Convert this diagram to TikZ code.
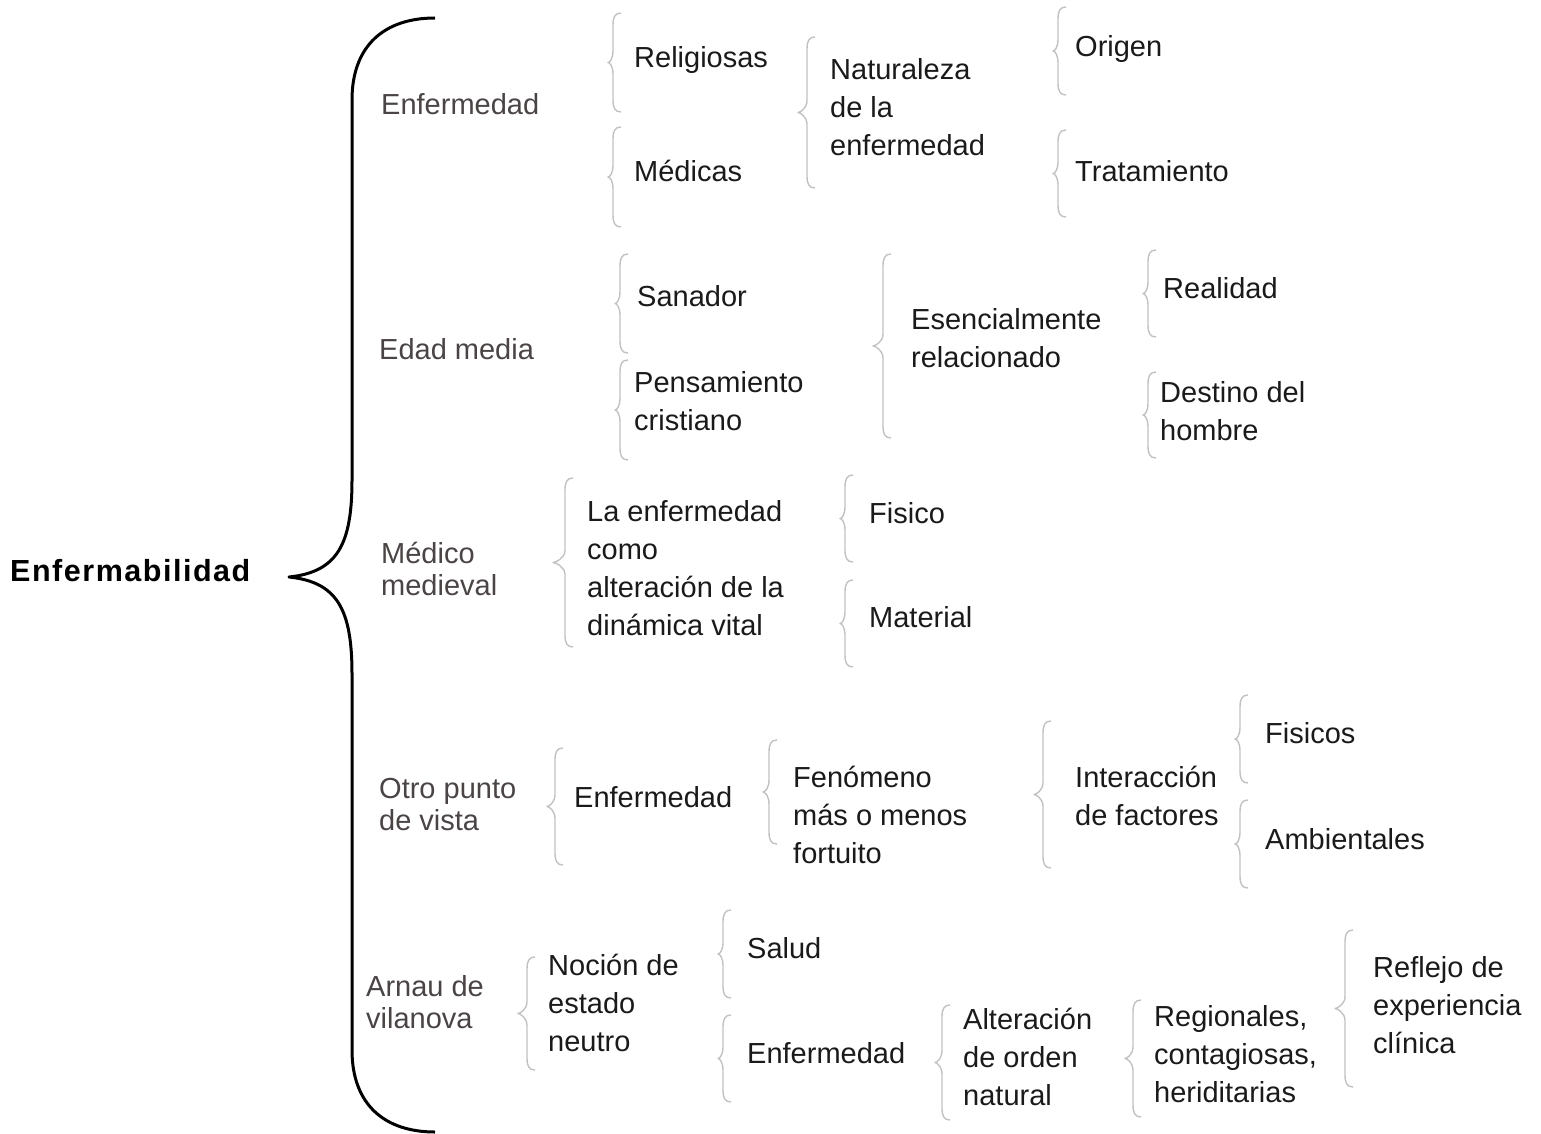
\documentclass[tikz,border=0pt]{standalone}
\usepackage{fontspec}
\setmainfont{Liberation Sans}
\definecolor{inkblack}{HTML}{1A1A1A}
\definecolor{topicgray}{HTML}{4A4444}
\definecolor{bracegray}{HTML}{C2C2C2}
\tikzset{
  item/.style={anchor=west, inner sep=0pt, align=left, text=inkblack,
    font=\fontsize{29}{38}\selectfont,
    execute at begin node=\strut, execute at end node=\strut},
  topic/.style={item, text=topicgray, font=\fontsize{29}{32}\selectfont},
  brace/.style={draw=bracegray, line width=1.4pt, line join=round},
  bigbrace/.style={draw=black, line width=3pt, line join=round},
}
% small gray brace: (stem x, top y, bottom y, tip depth)
\def\grbrace(#1,#2,#3,#4){%
  \pgfmathsetmacro\bmid{(#2+#3)/2}
  \draw[brace] (#1+8,#2) .. controls (#1+2,#2) and (#1,#2+4) .. (#1,#2+12)
    -- (#1,\bmid-12) .. controls (#1,\bmid-4) and (#1-#4+2,\bmid) .. (#1-#4,\bmid)
    .. controls (#1-#4+2,\bmid) and (#1,\bmid+4) .. (#1,\bmid+12)
    -- (#1,#3-12) .. controls (#1,#3-4) and (#1+2,#3) .. (#1+8,#3);}

\begin{document}
\begin{tikzpicture}[x=1pt, y=-1pt]
	%%%%% START %%%%%
	\useasboundingbox (0,0) rectangle (1541,1134);
	
	\node[item, text=black, font=\fontsize{30.5}{36}\bfseries\addfontfeature{LetterSpace=5}] (root) at (10,574) {Enfermabilidad};
	\draw[bigbrace] (435,18) .. controls (385,18) and (352,45) .. (352,100) -- (352,480)
		.. controls (352,545) and (337,572) .. (289,577)
		.. controls (337,582) and (352,609) .. (352,674) -- (352,1050)
		.. controls (352,1105) and (385,1132) .. (435,1132);
	
	\node[topic] (enf) at (381,108) {Enfermedad};
	\node[topic] (edad) at (379,353) {Edad media};
	\node[topic] (medico) at (381,574) {Médico\\medieval};
	\node[topic] (otro) at (379,809) {Otro punto\\de vista};
	\node[topic] (arnau) at (366,1007) {Arnau de\\vilanova};
	
	% Enfermedad
	\grbrace(613,13,112,5)
	\node[item] (relig) at (634,60) {Religiosas};
	\grbrace(613,127,227,5)
	\node[item] (medic) at (634,174) {Médicas};
	\grbrace(807,37,188,9)
	\node[item] (natur) at (830,113) {Naturaleza\\de la\\enfermedad};
	\grbrace(1058,7,95,5)
	\node[item] (origen) at (1075,49) {Origen};
	\grbrace(1058,130,217,5)
	\node[item] (tratam) at (1075,174) {Tratamiento};
	
	% Edad media
	\grbrace(620,254,353,5)
	\node[item] (sanador) at (637,299) {Sanador};
	\grbrace(620,360,460,5)
	\node[item] (pensam) at (634,407) {Pensamiento\\cristiano};
	\grbrace(883,254,438,10)
	\node[item] (esenc) at (911,344) {Esencialmente\\relacionado};
	\grbrace(1148,250,337,5)
	\node[item] (realid) at (1163,291) {Realidad};
	\grbrace(1148,372,458,5)
	\node[item] (destino) at (1160,417) {Destino del\\hombre};
	
	% Medico medieval
	\grbrace(565,478,647,12)
	\node[item] (dinam) at (587,574) {La enfermedad\\como\\alteración de la\\dinámica vital};
	\grbrace(845,475,562,5)
	\node[item] (fisico) at (869,516) {Fisico};
	\grbrace(845,580,667,5)
	\node[item] (material) at (869,620) {Material};
	
	% Otro punto de vista
	\grbrace(555,748,865,8)
	\node[item] (enfotro) at (574,800) {Enfermedad};
	\grbrace(769,740,844,6)
	\node[item] (fenom) at (793,821) {Fenómeno\\más o menos\\fortuito};
	\grbrace(1043,721,868,9)
	\node[item] (interac) at (1075,802) {Interacción\\de factores};
	\grbrace(1240,695,783,5)
	\node[item] (fisicos) at (1265,736) {Fisicos};
	\grbrace(1240,800,888,5)
	\node[item] (ambient) at (1265,842) {Ambientales};
	
	% Arnau de vilanova
	\grbrace(527,957,1070,9)
	\node[item] (nocion) at (548,1009) {Noción de\\estado\\neutro};
	\grbrace(723,910,998,5)
	\node[item] (salud) at (747,951) {Salud};
	\grbrace(723,1015,1102,5)
	\node[item] (enfarnau) at (747,1056) {Enfermedad};
	\grbrace(942,1005,1120,7)
	\node[item] (alter) at (963,1063) {Alteración\\de orden\\natural};
	\grbrace(1133,1000,1117,8)
	\node[item] (region) at (1154,1060) {Regionales,\\contagiosas,\\heriditarias};
	\grbrace(1345,930,1087,10)
	\node[item] (reflejo) at (1373,1011) {Reflejo de\\experiencia\\clínica};
	
	%%%%% END %%%%%
\end{tikzpicture}
\end{document}
